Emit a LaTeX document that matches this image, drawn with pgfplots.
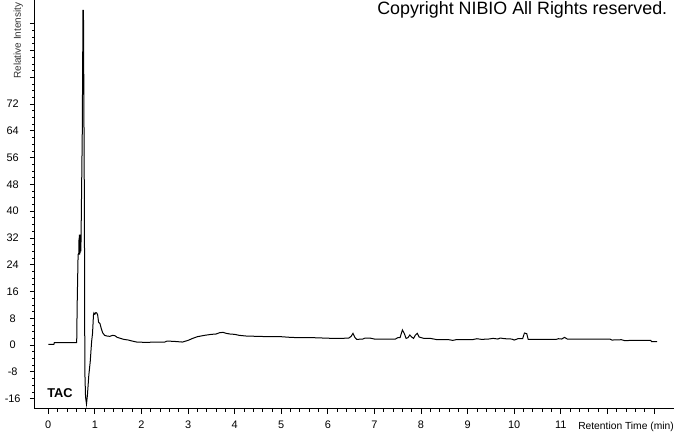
\documentclass[border=0pt]{standalone}
\usepackage{fontspec}
\setmainfont{Liberation Sans}
\usepackage{pgfplots}
\pgfplotsset{compat=1.18}

\begin{document}
\begin{tikzpicture}
\begin{axis}[
    at={(0,0)}, anchor=south west,
    scale only axis,
    width=479.25pt, height=306.75pt,
    xmin=-0.285, xmax=13.43,
    ymin=-19.1, ymax=103.1,
    axis lines=left,
    axis line style={-, line width=0.75pt},
    tick align=outside,
    major tick length=3.75pt,
    minor tick length=2.2pt,
    every tick/.style={black, line width=0.6pt},
    xtick={0,1,...,13},
    xticklabels={0,1,2,3,4,5,6,7,8,9,10,11,,},
    minor x tick num=4,
    ytick={-16,-8,...,96},
    yticklabels={-16,-8,0,8,16,24,32,40,48,56,64,72,,,},
    minor y tick num=3,
    /pgf/number format/assume math mode=true,
    tick label style={font=\fontsize{8.2}{9.5}\selectfont},
    xticklabel style={anchor=north, inner sep=0pt, yshift=-5pt},
    yticklabel style={anchor=center, xshift=-13pt},
    clip=false,
]
\addplot[black, line width=0.75pt, sharp plot] coordinates {
(0.00,0.2) (0.12,0.2) (0.13,0.7) (0.61,0.7) (0.62,12) (0.64,27)
(0.655,27.5) (0.66,32) (0.665,27) (0.67,33) (0.675,27) (0.68,32.5)
(0.685,27.5) (0.69,33) (0.70,28) (0.71,40) (0.73,64) (0.745,100)
(0.755,100) (0.765,70) (0.775,41) (0.785,-8) (0.80,-15.5) (0.82,-17.6)
(0.84,-15) (0.87,-9) (0.90,-5) (0.93,1) (0.95,3.5) (0.97,9.0)
(0.98,9.6) (1.00,9.2) (1.02,9.7) (1.04,9.6) (1.06,9.0) (1.08,6.8)
(1.11,6.4) (1.14,4.8) (1.17,3.6) (1.21,2.9) (1.26,2.7) (1.32,2.6)
(1.38,2.9) (1.43,2.8) (1.48,2.3) (1.55,2.0) (1.62,1.7) (1.72,1.5)
(1.80,1.2) (1.90,0.9) (2.10,0.8) (2.30,0.9) (2.50,0.9) (2.55,1.2)
(2.70,1.1) (2.88,0.9) (3.00,1.4) (3.10,2.0) (3.20,2.5) (3.35,2.9)
(3.50,3.2) (3.60,3.3) (3.68,3.7) (3.75,3.8) (3.82,3.5) (3.90,3.3)
(4.00,3.2) (4.10,2.9) (4.25,2.7) (4.50,2.6) (4.75,2.5) (5.00,2.5)
(5.20,2.3) (5.40,2.2) (5.70,2.2) (5.90,2.1) (6.10,2.0) (6.30,2.0)
(6.45,2.1) (6.50,2.6) (6.54,3.5) (6.58,2.3) (6.62,1.7) (6.75,1.8)
(6.80,2.1) (6.90,2.1) (7.00,1.8) (7.30,1.8) (7.45,1.8) (7.50,2.2)
(7.55,2.2) (7.60,4.5) (7.64,3.5) (7.68,2.0) (7.72,2.2) (7.76,3.0)
(7.80,2.4) (7.84,2.0) (7.88,3.0) (7.92,3.5) (7.96,2.4) (8.06,2.0)
(8.20,2.0) (8.35,1.6) (8.60,1.6) (8.68,1.4) (8.75,1.6) (9.10,1.6)
(9.20,1.9) (9.30,1.7) (9.45,1.8) (9.55,2.0) (9.65,1.8) (9.70,2.1)
(9.80,1.9) (9.95,1.8) (10.00,1.5) (10.08,1.9) (10.18,1.9) (10.22,3.6)
(10.27,3.4) (10.30,1.7) (10.90,1.7) (10.95,1.9) (11.02,1.8) (11.08,2.3)
(11.14,1.8) (12.05,1.8) (12.10,1.5) (12.30,1.6) (12.38,1.3) (12.50,1.4)
(12.93,1.4) (12.95,1.0) (13.07,1.0)
};
\end{axis}
% texts, positions in pt from the axis corner (1px = 0.75pt)
\node[anchor=base west, inner sep=0pt, font=\fontsize{13.4}{16}\selectfont]
  at (256.5pt,295.5pt) {Copyright NIBIO All Rights reserved.};
\node[anchor=base west, inner sep=0pt, font=\bfseries\fontsize{9.6}{11}\selectfont]
  at (9pt,8.25pt) {TAC};
\node[anchor=base west, inner sep=0pt, rotate=90, font=\fontsize{7.5}{9}\selectfont, text=black!80]
  at (-10.5pt,247.5pt) {Relative Intensity};
\node[anchor=north east, inner sep=0pt, font=\fontsize{7.7}{9}\selectfont]
  at (479.25pt,-9.75pt) {Retention Time (min)};
\pgfresetboundingbox
\useasboundingbox (-26.25pt,-18.75pt) rectangle (479.25pt,306.75pt);
\end{tikzpicture}
\end{document}
